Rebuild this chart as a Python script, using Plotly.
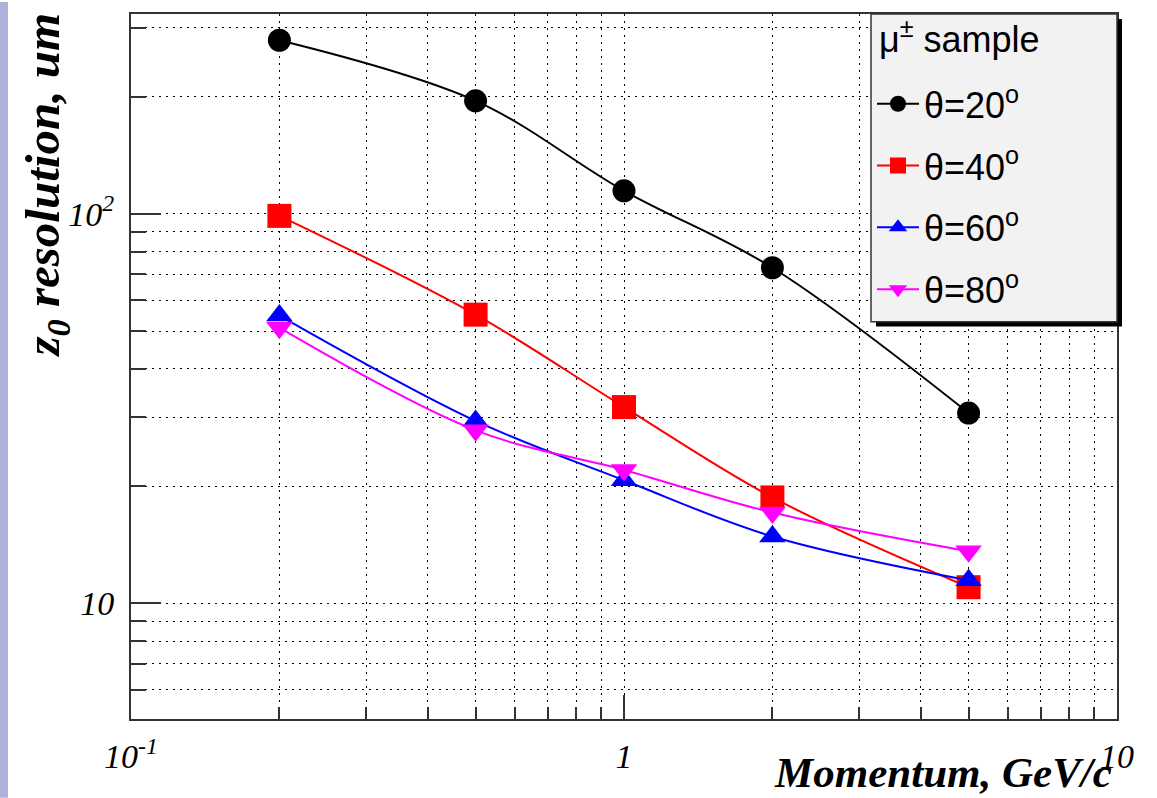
import plotly.graph_objects as go

# ---- data ----
momentum = [0.2, 0.5, 1, 2, 5]
res_theta20 = [279, 195, 114.6, 72.7, 30.8]
res_theta40 = [98.8, 55.1, 31.9, 18.7, 11.0]
res_theta60 = [54.8, 29.4, 20.7, 14.85, 11.46]
res_theta80 = [51.0, 27.8, 22.0, 17.1, 13.6]

series_values = [res_theta20, res_theta40, res_theta60, res_theta80]
series_names = ["θ=20<sup>o</sup>", "θ=40<sup>o</sup>", "θ=60<sup>o</sup>", "θ=80<sup>o</sup>"]
series_colors = ["#000000", "#ff0000", "#0000ff", "#ff00ff"]
series_symbols = ["circle", "square", "triangle-up", "triangle-down"]
series_sizes = [23, 24, 23, 23]

x_major = [0.1, 1, 10]
x_major_text = ["10<sup>-1</sup>", "1", "10"]
x_minor = [0.2, 0.3, 0.4, 0.5, 0.6, 0.7, 0.8, 0.9, 2, 3, 4, 5, 6, 7, 8, 9]
y_major = [10, 100]
y_major_text = ["10", "10<sup>2</sup>"]
y_minor = [6, 7, 8, 9, 20, 30, 40, 50, 60, 70, 80, 90, 200, 300]

x_range_log = [-1, 1]
y_range_log = [0.703, 2.513]

legend_title = "μ<sup>±</sup> sample"
x_title = "Momentum, GeV/c"
y_title = "z<sub>0</sub> resolution, um"

# ---- build ----
L, R, T, B = 131, 40, 12, 79
W, H = 1157, 798
PW, PH = W - L - R, H - T - B


def px_x(px):
    return (px - L) / PW


def px_y(py):
    return (H - B - py) / PH


fig = go.Figure()
for vals, name, col, sym, sz in zip(series_values, series_names, series_colors,
                                    series_symbols, series_sizes):
    fig.add_trace(go.Scatter(
        x=momentum, y=vals, name=name, legendgroup=name,
        mode="lines+markers",
        line=dict(color=col, width=2, shape="spline", smoothing=1),
        marker=dict(color=col, symbol=sym, size=sz, line=dict(width=0)),
    ))

# empty trace to activate overlay axes (long major ticks)
fig.add_trace(go.Scatter(x=[], y=[], xaxis="x2", yaxis="y2", showlegend=False,
                         hoverinfo="skip"))

x_all = sorted(x_minor + x_major)
x_text = [x_major_text[x_major.index(v)] if v in x_major else "" for v in x_all]
y_all = sorted(y_minor + y_major)
y_text = [y_major_text[y_major.index(v)] if v in y_major else "" for v in y_all]

tick_font = dict(family="Liberation Serif", size=34, color="black", style="italic")
grid_common = dict(showgrid=True, gridcolor="#000000", gridwidth=1.3, griddash="1.5px,5.5px")

fig.update_layout(
    width=W, height=H,
    margin=dict(l=L, r=R, t=T, b=B, pad=0),
    paper_bgcolor="white", plot_bgcolor="white",
    xaxis=dict(type="log", range=x_range_log, tickmode="array", tickvals=x_all,
               ticktext=x_text, ticks="inside", ticklen=12, tickwidth=2,
               tickcolor="#333333", showline=True, linecolor="#333333",
               linewidth=2, mirror=True, zeroline=False, tickfont=tick_font,
               ticklabelstandoff=6, **grid_common),
    yaxis=dict(type="log", range=y_range_log, tickmode="array", tickvals=y_all,
               ticktext=y_text, ticks="inside", ticklen=15, tickwidth=2,
               tickcolor="#333333", showline=True, linecolor="#333333",
               linewidth=2, mirror=True, zeroline=False, tickfont=tick_font,
               ticklabelstandoff=8, **grid_common),
    xaxis2=dict(type="log", range=x_range_log, overlaying="x", side="bottom",
                tickmode="array", tickvals=x_major, ticks="inside", ticklen=24,
                tickwidth=2, tickcolor="#333333", showticklabels=False,
                showgrid=False, showline=False, zeroline=False),
    yaxis2=dict(type="log", range=y_range_log, overlaying="y", side="left",
                tickmode="array", tickvals=y_major, ticks="inside", ticklen=30,
                tickwidth=2, tickcolor="#333333", showticklabels=False,
                showgrid=False, showline=False, zeroline=False),
    showlegend=True,
    legend=dict(
        x=px_x(872), y=px_y(72), xanchor="left", yanchor="top",
        bgcolor="rgba(0,0,0,0)", borderwidth=0,
        font=dict(family="Liberation Sans", size=36, color="black"),
        tracegroupgap=12, itemwidth=42, itemsizing="trace",
    ),
    hovermode=False,
)

# legend box with shadow, left lavender strip
fig.add_shape(type="rect", xref="paper", yref="paper",
              x0=px_x(876), x1=px_x(1122), y0=px_y(325.5), y1=px_y(17),
              fillcolor="black", line=dict(width=0), layer="above")
fig.add_shape(type="rect", xref="paper", yref="paper",
              x0=px_x(871), x1=px_x(1117), y0=px_y(320.5), y1=px_y(12),
              fillcolor="#f2f2f2", line=dict(color="#333333", width=1.5), layer="above")
fig.add_shape(type="rect", xref="paper", yref="paper",
              x0=px_x(0), x1=px_x(8), y0=px_y(H), y1=px_y(0),
              fillcolor="#aeb1d9", line=dict(width=0), layer="below")

legend_font = dict(family="Liberation Sans", size=36, color="black")
fig.add_annotation(text=legend_title, xref="paper", yref="paper",
                   x=px_x(877), y=px_y(35), xanchor="left", yanchor="middle",
                   showarrow=False, font=legend_font)

title_font_x = dict(family="Liberation Serif", size=43, color="black",
                    style="italic", weight="bold")
title_font_y = dict(family="Liberation Serif", size=49, color="black",
                    style="italic", weight="bold")
fig.add_annotation(text=x_title, xref="paper", yref="paper",
                   x=px_x(1114), y=px_y(773), xanchor="right", yanchor="middle",
                   showarrow=False, font=title_font_x)
fig.add_annotation(text=y_title, xref="paper", yref="paper", textangle=-90,
                   x=px_x(46), y=px_y(184), xanchor="center", yanchor="middle",
                   showarrow=False, font=title_font_y)

fig.write_html("out.html", config={"displayModeBar": False},
               post_script="document.body.style.margin='0';")
